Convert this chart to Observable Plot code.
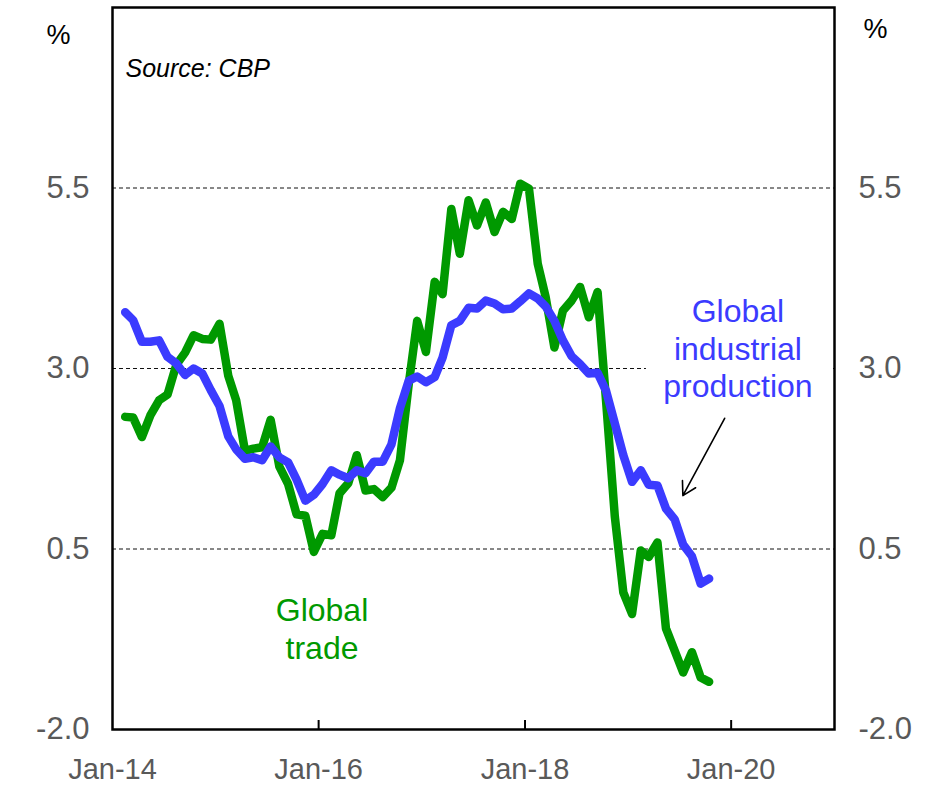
<!DOCTYPE html>
<html>
<head>
<meta charset="utf-8">
<script src="https://cdn.jsdelivr.net/npm/d3@7"></script>
<script src="https://cdn.jsdelivr.net/npm/@observablehq/plot@0.6"></script>
<style>
  html, body { margin: 0; padding: 0; background: #fff; }
</style>
</head>
<body>
<div id="chart"></div>
<script>
// Monthly series, Feb 2014 .. Oct 2019 (% yoy, 3m avg)
const firstYear = 2014;
const firstMonth = 1; // February (0-based)
const industrialProduction = [
  3.78, 3.67, 3.37, 3.37, 3.39, 3.16, 3.07, 2.91, 3.00, 2.93, 2.70,
  2.48, 2.06, 1.88, 1.75, 1.77, 1.73, 1.92, 1.77, 1.70, 1.46, 1.17, 1.25,
  1.40, 1.59, 1.53, 1.48, 1.59, 1.55, 1.71, 1.71, 1.95, 2.45, 2.83, 2.89,
  2.81, 2.88, 3.15, 3.60, 3.66, 3.84, 3.83, 3.94, 3.90, 3.82, 3.83, 3.93,
  4.04, 3.97, 3.86, 3.66, 3.39, 3.17, 3.06, 2.93, 2.94, 2.69, 2.24, 1.80,
  1.43, 1.59, 1.39, 1.38, 1.06, 0.91, 0.56, 0.40, 0.02, 0.09
];
const globalTrade = [
  2.33, 2.32, 2.05, 2.35, 2.56, 2.64, 3.05, 3.22, 3.46, 3.41, 3.40,
  3.62, 2.90, 2.56, 1.86, 1.89, 1.91, 2.29, 1.64, 1.40, 0.98, 0.96, 0.46,
  0.71, 0.69, 1.27, 1.41, 1.80, 1.31, 1.33, 1.22, 1.35, 1.73, 2.78, 3.66,
  3.23, 4.20, 4.03, 5.21, 4.59, 5.33, 4.98, 5.30, 4.89, 5.17, 5.07, 5.56,
  5.49, 4.45, 3.99, 3.29, 3.80, 3.94, 4.13, 3.71, 4.06, 2.55, 0.95, -0.10,
  -0.40, 0.48, 0.39, 0.59, -0.60, -0.91, -1.21, -0.93, -1.28, -1.34
];
const yTicks = [-2, 0.5, 3, 5.5];
const gridValues = [0.5, 3, 5.5];
const xTickYears = [2014, 2016, 2018, 2020];
const xTickLabels = ["Jan-14", "Jan-16", "Jan-18", "Jan-20"];
const xInnerTickYears = [2016, 2018, 2020];

const blue = "#3b3bff";
const green = "#009900";

const monthDate = (i) => new Date(Date.UTC(firstYear, firstMonth + i, 15));
const ipRows = industrialProduction.map((v, i) => ({date: monthDate(i), value: v}));
const tradeRows = globalTrade.map((v, i) => ({date: monthDate(i), value: v}));

const labelByYear = new Map(xTickYears.map((y, i) => [y, xTickLabels[i]]));
const tickDates = xTickYears.map(y => new Date(Date.UTC(y, 0, 1)));
const innerTickDates = xInnerTickYears.map(y => new Date(Date.UTC(y, 0, 1)));
const fmt = d => d.toFixed(1);

const annotations = [
  {date: new Date(Date.UTC(2020, 0, 25)), value: 3.29, text: "Global\nindustrial\nproduction", color: blue},
  {date: new Date(Date.UTC(2016, 0, 13)), value: -0.59, text: "Global\ntrade", color: green}
];
const arrows = [
  {x1: new Date(Date.UTC(2019, 11, 9)), y1: 2.31, x2: new Date(Date.UTC(2019, 6, 14)), y2: 1.24}
];
const labelBackdrop = [
  {x1: new Date(Date.UTC(2019, 2, 7)), x2: new Date(Date.UTC(2020, 11, 28)), y1: 2.9, y2: 3.1}
];

const W = 928, H = 785, mT = 7, mB = 56, mL = 112, mR = 94;
const plotH = H - mT - mB;

const chart = Plot.plot({
  width: W,
  height: H,
  marginLeft: mL,
  marginRight: mR,
  marginTop: mT,
  marginBottom: mB,
  style: {fontFamily: "'Liberation Sans', Arial, sans-serif", background: "white", overflow: "visible"},
  x: {type: "utc", domain: [new Date(Date.UTC(2014, 0, 1)), new Date(Date.UTC(2021, 0, 1))]},
  y: {domain: [-2, 8]},
  marks: [
    Plot.ruleY(gridValues, {stroke: "#111", strokeWidth: 1, strokeDasharray: "4,3"}),
    Plot.rect(labelBackdrop, {x1: "x1", x2: "x2", y1: "y1", y2: "y2", fill: "white"}),
    Plot.line(tradeRows, {x: "date", y: "value", stroke: green, strokeWidth: 8.5, strokeLinejoin: "round", strokeLinecap: "round"}),
    Plot.line(ipRows, {x: "date", y: "value", stroke: blue, strokeWidth: 8.5, strokeLinejoin: "round", strokeLinecap: "round"}),
    Plot.axisY({anchor: "left", ticks: yTicks, tickSize: 0, tickPadding: 23, tickFormat: fmt, fontSize: 31, color: "#595959", label: null}),
    Plot.axisY({anchor: "right", ticks: yTicks, tickSize: 0, tickPadding: 24, tickFormat: fmt, fontSize: 31, color: "#595959", label: null}),
    Plot.axisX({ticks: tickDates, tickSize: 0, tickPadding: 29, tickFormat: d => labelByYear.get(d.getUTCFullYear()), fontSize: 29, color: "#595959", label: null}),
    Plot.tickX(innerTickDates, {x: d => d, insetTop: plotH - 9, stroke: "black", strokeWidth: 2}),
    Plot.frame({stroke: "black", strokeWidth: 2.5}),
    Plot.text(["%"], {frameAnchor: "top-left", dx: -54, dy: 28, textAnchor: "middle", lineAnchor: "middle", fontSize: 27, fill: "black"}),
    Plot.text(["%"], {frameAnchor: "top-right", dx: 41, dy: 22, textAnchor: "middle", lineAnchor: "middle", fontSize: 27, fill: "black"}),
    Plot.text(["Source: CBP"], {frameAnchor: "top-left", dx: 13, dy: 61, textAnchor: "start", lineAnchor: "middle", fontSize: 25, fontStyle: "italic", fill: "black"}),
    Plot.text(annotations, {x: "date", y: "value", text: "text", fill: "color", fontSize: 32, lineHeight: 1.18, textAnchor: "middle", lineAnchor: "middle"}),
    Plot.arrow(arrows, {x1: "x1", y1: "y1", x2: "x2", y2: "y2", stroke: "black", strokeWidth: 1.6, headLength: 14})
  ]
});
document.getElementById("chart").appendChild(chart);
</script>
</body>
</html>
